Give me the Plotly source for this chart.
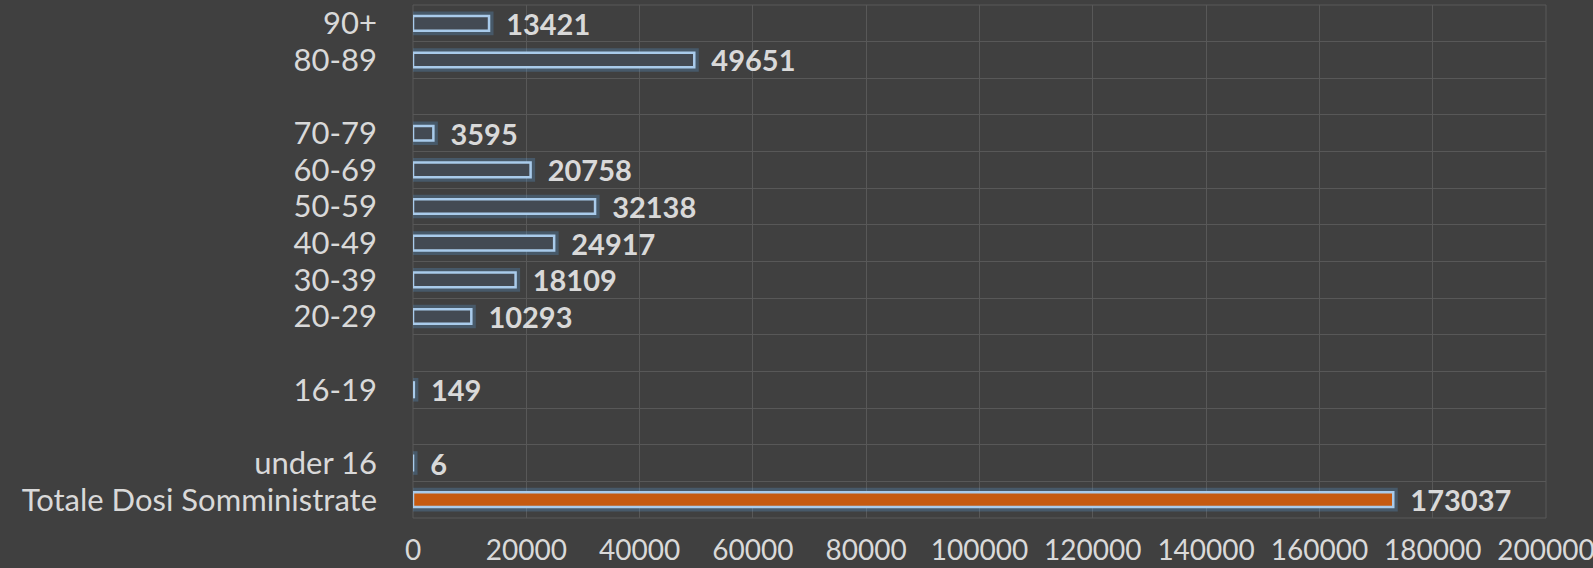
import plotly.graph_objects as go

categories = ["Totale Dosi Somministrate", "under 16", " ", "16-19", "  ",
              "20-29", "30-39", "40-49", "50-59", "60-69", "70-79", "   ",
              "80-89", "90+"]
values = [173037, 6, None, 149, None, 10293, 18109, 24917, 32138, 20758, 3595, None, 49651, 13421]
fill_colors = ["#c55a11"] + ["#434a53"] * 13
x_ticks = [0, 20000, 40000, 60000, 80000, 100000, 120000, 140000, 160000, 180000, 200000]

bg = "#404040"
fig = go.Figure()
# soft glow behind the bars
fig.add_trace(go.Bar(
    y=categories, x=values, orientation="h", width=0.40,
    marker=dict(color="rgba(0,0,0,0)", line=dict(color="rgba(91,155,213,0.28)", width=9)),
    hoverinfo="skip", showlegend=False,
))
fig.add_trace(go.Bar(
    y=categories, x=values, orientation="h", width=0.40,
    marker=dict(color=fill_colors, line=dict(color="#a9cbeb", width=2.5)),
    text=["  " + str(v) if v is not None else "" for v in values],
    textposition="outside", cliponaxis=False, constraintext="none",
    textfont=dict(family="Lato", size=29, color="#d9d9d9", weight="bold"),
    showlegend=False,
))
fig.update_layout(
    width=1593, height=568,
    paper_bgcolor=bg, plot_bgcolor=bg,
    barmode="overlay",
    margin=dict(l=413, r=47, t=5, b=50),
    xaxis=dict(range=[0, 200000], tickvals=x_ticks, ticktext=[str(t) for t in x_ticks],
               showgrid=True, gridcolor="#585858", gridwidth=1, zeroline=False,
               showline=False, ticks="", ticklabelstandoff=13, automargin=False,
               ticklabeloverflow="allow",
               tickfont=dict(family="Lato", size=28, color="#d9d9d9")),
    yaxis=dict(type="category", categoryorder="array", categoryarray=categories,
               tickmode="array", tickvals=categories, ticktext=categories,
               tickson="boundaries", showgrid=True, gridcolor="#585858", gridwidth=1,
               ticks="", showline=False, ticklabelstandoff=35, automargin=False,
               tickfont=dict(family="Lato", size=31, color="#d9d9d9")),
    shapes=[dict(type="rect", xref="paper", yref="paper", x0=0, x1=1, y0=0, y1=1,
                 line=dict(color="#585858", width=1), layer="below")],
)
fig.write_html("out.html", config={"displayModeBar": False},
               post_script="document.body.style.margin='0';document.body.style.background='#404040';")
